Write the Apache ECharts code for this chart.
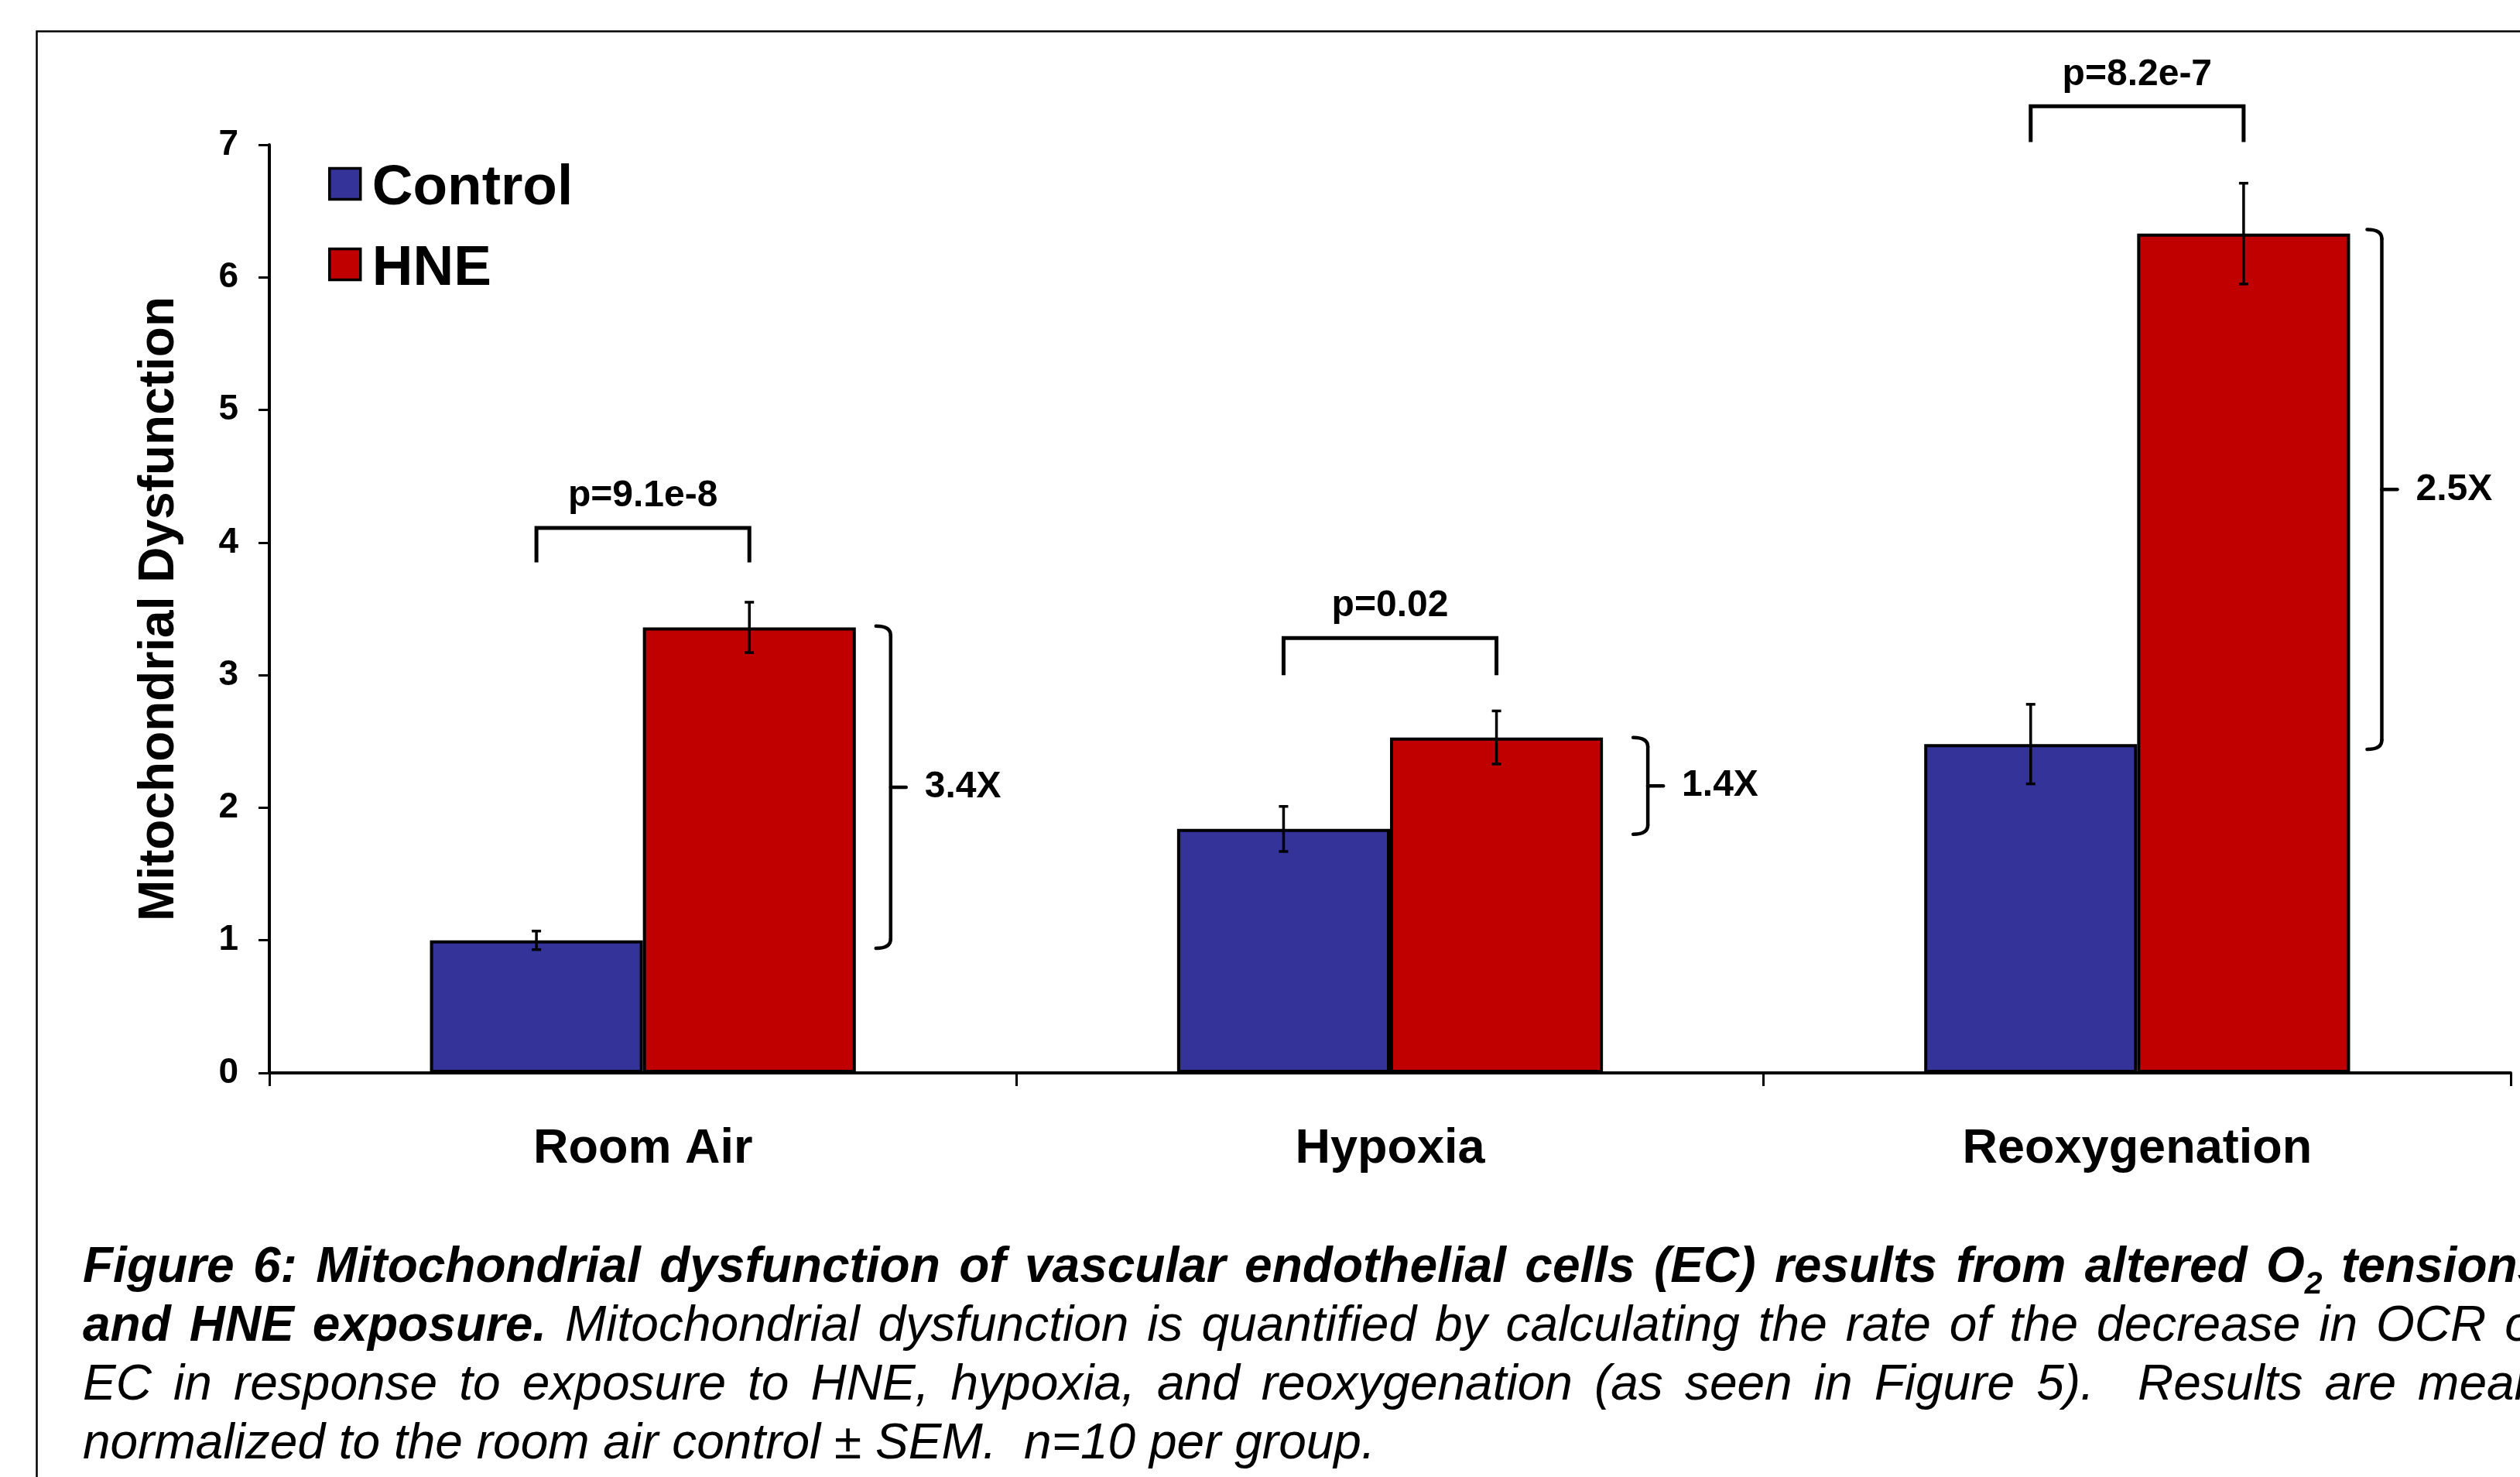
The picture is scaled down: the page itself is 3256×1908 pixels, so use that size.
<!DOCTYPE html>
<html>
<head>
<meta charset="utf-8">
<script src="https://cdn.jsdelivr.net/npm/echarts@6/dist/echarts.min.js"></script>
<style>
html,body{margin:0;padding:0;background:#fff;overflow:hidden}
#c{width:3256px;height:1908px}
</style>
</head>
<body>
<div id="c"></div>
<script>
// ---------------- data ----------------
const categories = ['Room Air', 'Hypoxia', 'Reoxygenation'];
const seriesNames = ['Control', 'HNE'];
const controlValues = [1.00, 1.84, 2.48];
const hneValues = [3.36, 2.53, 6.33];
const controlErr = [0.07, 0.17, 0.30];
const hneErr = [0.19, 0.20, 0.38];
const pLabels = ['p=9.1e-8', 'p=0.02', 'p=8.2e-7'];
const pBracketTop = [4.11, 3.28, 7.29];
const pBracketLeg = [3.85, 3.00, 7.02];
const foldLabels = ['3.4X', '1.4X', '2.5X'];
const foldLow = [0.94, 1.80, 2.44];
const foldHigh = [3.37, 2.53, 6.36];
const yMin = 0, yMax = 7, yInterval = 1;
const yAxisTitle = 'Mitochondrial Dysfunction';
const captionLine1 = [['b', 'Figure 6: Mitochondrial dysfunction of vascular endothelial cells (EC) results from altered O'], ['sub', '2'], ['b', ' tensions']];
const captionLine2 = [['b', 'and HNE exposure.'], ['i', ' Mitochondrial dysfunction is quantified by calculating the rate of the decrease in OCR of']];
const captionLine3 = [['i', 'EC in response to exposure to HNE, hypoxia, and reoxygenation (as seen in Figure 5).  Results are means']];
const captionLine4 = [['i', 'normalized to the room air control \u00B1 SEM.  n=10 per group.']];

// ---------------- styles ----------------
const FONT = 'Liberation Sans';
const CONTROL_COLOR = '#333399';
const HNE_COLOR = '#C00000';
const BAR_CAT_GAP = 0.43;
const braceGap = [45, 58, 41];
const ANN_FONT = 48;

const chart = echarts.init(document.getElementById('c'), null, {renderer: 'canvas'});

function barWidth(api) {
  const band = api.size([1, 0])[0];
  return band * (1 - BAR_CAT_GAP) / 2;
}

const errData = [];
categories.forEach((c, i) => {
  errData.push([i, controlValues[i], controlErr[i], -1]);
  errData.push([i, hneValues[i], hneErr[i], 1]);
});
const annData = categories.map((c, i) => [i, pBracketTop[i], pBracketLeg[i], foldLow[i], foldHigh[i]]);

function renderErr(params, api) {
  const i = api.value(0), v = api.value(1), e = api.value(2), side = api.value(3);
  const bw = barWidth(api);
  const top = api.coord([i, v + e]);
  const bot = api.coord([i, v - e]);
  const x = top[0] + side * bw / 2;
  const st = {stroke: '#000', lineWidth: 3.5};
  const cap = 6;
  return {
    type: 'group',
    children: [
      {type: 'line', shape: {x1: x, y1: top[1], x2: x, y2: bot[1]}, style: st},
      {type: 'line', shape: {x1: x - cap, y1: top[1], x2: x + cap, y2: top[1]}, style: st},
      {type: 'line', shape: {x1: x - cap, y1: bot[1], x2: x + cap, y2: bot[1]}, style: st}
    ]
  };
}

function renderAnn(params, api) {
  const idx = params.dataIndex;
  const i = api.value(0);
  const bw = barWidth(api);
  const c = api.coord([i, 0])[0];
  const xL = c - bw / 2, xR = c + bw / 2;
  const yTop = api.coord([i, api.value(1)])[1];
  const yLeg = api.coord([i, api.value(2)])[1];
  const yLow = api.coord([i, api.value(3)])[1];
  const yHigh = api.coord([i, api.value(4)])[1];
  const v = c + bw + braceGap[idx];
  const mid = (yLow + yHigh) / 2;
  const st = {stroke: '#000', lineWidth: 4.5, fill: 'none', lineCap: 'round'};
  return {
    type: 'group',
    children: [
      {type: 'polyline', shape: {points: [[xL, yLeg], [xL, yTop], [xR, yTop], [xR, yLeg]]}, style: {stroke: '#000', lineWidth: 5, fill: 'none', lineJoin: 'miter'}},
      {type: 'text', x: (xL + xR) / 2, y: yTop - 41, style: {text: pLabels[idx], fill: '#000', fontFamily: FONT, fontWeight: 'bold', fontSize: ANN_FONT, align: 'center', verticalAlign: 'middle'}},
      {type: 'bezierCurve', shape: {x1: v - 19, y1: yHigh, cpx1: v, cpy1: yHigh, x2: v, y2: yHigh + 12}, style: st},
      {type: 'line', shape: {x1: v, y1: yHigh + 12, x2: v, y2: yLow - 12}, style: st},
      {type: 'bezierCurve', shape: {x1: v, y1: yLow - 12, cpx1: v, cpy1: yLow, x2: v - 19, y2: yLow}, style: st},
      {type: 'line', shape: {x1: v, y1: mid, x2: v + 20, y2: mid}, style: st},
      {type: 'text', x: v + 44, y: mid, style: {text: foldLabels[idx], fill: '#000', fontFamily: FONT, fontWeight: 'bold', fontSize: ANN_FONT, align: 'left', verticalAlign: 'middle'}}
    ]
  };
}

// ---------------- caption (justified lines via rich-text spacers) ----------------
const CAP_SIZE = 64, SUB_SIZE = 41, CAP_LH = 84;
const capStyles = {
  b: {fontSize: CAP_SIZE, fontWeight: 'bold', fontStyle: 'italic'},
  i: {fontSize: CAP_SIZE, fontWeight: 'normal', fontStyle: 'italic'},
  sub: {fontSize: SUB_SIZE, fontWeight: 'bold', fontStyle: 'italic'}
};
const mctx = document.createElement('canvas').getContext('2d');
function measure(st, text) {
  const s = capStyles[st];
  mctx.font = s.fontStyle + ' ' + s.fontWeight + ' ' + s.fontSize + 'px "' + FONT + '"';
  return mctx.measureText(text).width;
}
function buildLine(segs, anchorWord, anchorX, x0) {
  const toks = [];
  segs.forEach(([st, txt]) => {
    txt.split(/( )/).forEach(p => {
      if (p === '') return;
      if (p === ' ') toks.push({sp: true, st});
      else toks.push({st, t: p});
    });
  });
  let spW = null;
  if (anchorWord) {
    let sum = 0, n = 0;
    for (const tk of toks) {
      if (!tk.sp && tk.t === anchorWord) break;
      if (tk.sp) n++; else sum += measure(tk.st, tk.t);
    }
    spW = (anchorX - x0 - sum) / n;
  }
  const rich = {};
  Object.keys(capStyles).forEach(k => {
    const s = capStyles[k];
    rich[k] = {fontFamily: FONT, fontSize: s.fontSize, fontWeight: s.fontWeight, fontStyle: s.fontStyle, fill: '#000', verticalAlign: 'middle', lineHeight: CAP_LH};
  });
  rich.sub.lineHeight = 40;
  rich.sub.padding = [44, 0, 0, 0];
  rich.sp = {fontFamily: FONT, fontSize: CAP_SIZE, lineHeight: CAP_LH, verticalAlign: 'middle', fill: '#000'};
  if (spW !== null) rich.sp.width = spW;
  let text = '';
  toks.forEach(tk => {
    if (tk.sp) text += spW !== null ? '{sp| }' : '{' + tk.st + '| }';
    else text += '{' + tk.st + '|' + tk.t + '}';
  });
  return {text, rich};
}
const CAP_X = 107;
const capLines = [
  buildLine(captionLine1, 'tensions', 3025, CAP_X),
  buildLine(captionLine2, 'OCR', 3070, CAP_X),
  buildLine(captionLine3, 'Results', 2762, CAP_X),
  buildLine(captionLine4, null, 0, CAP_X)
];
const capY = [1638, 1714, 1790, 1866];

const graphic = [
  {type: 'rect', silent: true, shape: {x: 47.5, y: 40.5, width: 4000, height: 4000}, style: {fill: 'none', stroke: '#000', lineWidth: 2.5}, z: 0}
];
capLines.forEach((ln, k) => {
  graphic.push({type: 'text', silent: true, x: CAP_X, y: capY[k], style: {text: ln.text, rich: ln.rich, align: 'left', verticalAlign: 'middle'}});
});

const option = {
  animation: false,
  backgroundColor: '#fff',
  textStyle: {fontFamily: FONT},
  grid: {left: 348, right: 12, top: 187, bottom: 522, containLabel: false, outerBoundsMode: 'none'},
  legend: {
    data: seriesNames,
    orient: 'vertical',
    left: 424,
    top: 195,
    padding: 0,
    icon: 'rect',
    itemWidth: 40,
    itemHeight: 40,
    itemGap: 19,
    itemStyle: {borderColor: '#000', borderWidth: 3.5},
    formatter: '{t|{name}}',
    textStyle: {
      fontFamily: FONT, fontSize: 73, fontWeight: 'bold', color: '#000',
      rich: {t: {fontFamily: FONT, fontSize: 73, fontWeight: 'bold', color: '#000', lineHeight: 61, padding: [12, 0, 0, 10]}}
    },
    selectedMode: false
  },
  xAxis: {
    type: 'category',
    data: categories,
    axisLine: {lineStyle: {color: '#000', width: 4}},
    axisTick: {show: true, alignWithLabel: false, length: 17, lineStyle: {color: '#000', width: 3}},
    axisLabel: {fontFamily: FONT, fontSize: 63, fontWeight: 'bold', color: '#000', margin: 67},
    splitLine: {show: false}
  },
  yAxis: {
    type: 'value',
    min: yMin, max: yMax, interval: yInterval,
    name: yAxisTitle,
    nameLocation: 'middle',
    nameGap: 110,
    nameTextStyle: {fontFamily: FONT, fontSize: 64, fontWeight: 'bold', color: '#000'},
    axisLine: {show: true, lineStyle: {color: '#000', width: 4}},
    axisTick: {show: true, length: 14, lineStyle: {color: '#000', width: 3}},
    axisLabel: {fontFamily: FONT, fontSize: 46, fontWeight: 'bold', color: '#000', margin: 40},
    splitLine: {show: false}
  },
  graphic: graphic,
  series: [
    {name: seriesNames[0], type: 'bar', data: controlValues, barGap: '0%', barCategoryGap: (BAR_CAT_GAP * 100) + '%',
     itemStyle: {color: CONTROL_COLOR, borderColor: '#000', borderWidth: 4}, z: 2},
    {name: seriesNames[1], type: 'bar', data: hneValues, barGap: '0%', barCategoryGap: (BAR_CAT_GAP * 100) + '%',
     itemStyle: {color: HNE_COLOR, borderColor: '#000', borderWidth: 4}, z: 2},
    {type: 'custom', data: errData, renderItem: renderErr, z: 5, clip: false, silent: true},
    {type: 'custom', data: annData, renderItem: renderAnn, z: 5, clip: false, silent: true}
  ]
};
chart.setOption(option);
</script>
</body>
</html>
